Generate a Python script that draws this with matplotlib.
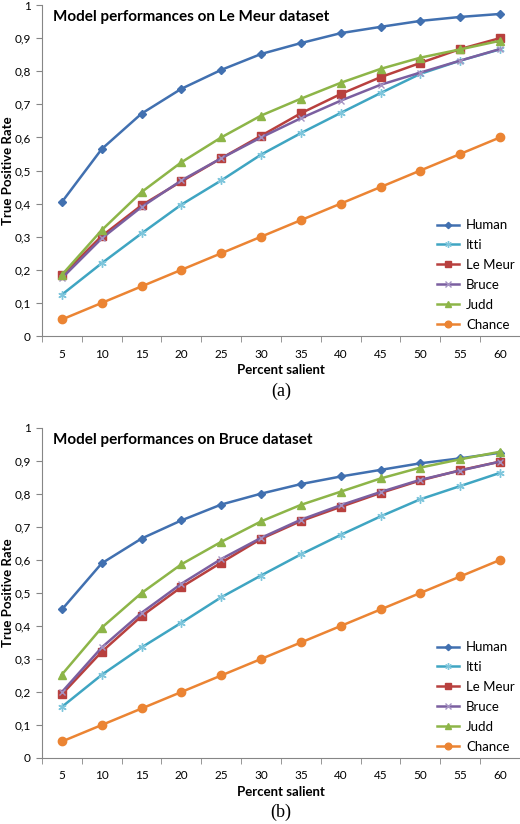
import matplotlib
matplotlib.use('Agg')
import matplotlib.pyplot as plt

plt.rcParams['font.family'] = ['Lato', 'DejaVu Sans']

# Percent salient categories
percent = ['5', '10', '15', '20', '25', '30', '35', '40', '45', '50', '55', '60']
models = ['Human', 'Itti', 'Le Meur', 'Bruce', 'Judd', 'Chance']

# (a) Le Meur dataset
lemeur_human = [0.405, 0.565, 0.672, 0.747, 0.804, 0.852, 0.885, 0.915, 0.934, 0.952, 0.964, 0.973]
lemeur_itti = [0.125, 0.22, 0.31, 0.397, 0.47, 0.548, 0.613, 0.674, 0.734, 0.792, 0.832, 0.866]
lemeur_lemeur = [0.183, 0.302, 0.395, 0.467, 0.537, 0.605, 0.673, 0.731, 0.782, 0.825, 0.867, 0.9]
lemeur_bruce = [0.175, 0.295, 0.39, 0.47, 0.537, 0.6, 0.658, 0.711, 0.759, 0.796, 0.832, 0.867]
lemeur_judd = [0.185, 0.32, 0.435, 0.525, 0.6, 0.666, 0.717, 0.765, 0.807, 0.841, 0.866, 0.892]
lemeur_chance = [0.05, 0.1, 0.15, 0.2, 0.25, 0.3, 0.35, 0.4, 0.45, 0.5, 0.55, 0.6]

# (b) Bruce dataset
bruce_human = [0.45, 0.59, 0.665, 0.72, 0.768, 0.801, 0.83, 0.853, 0.873, 0.893, 0.908, 0.925]
bruce_itti = [0.155, 0.252, 0.335, 0.41, 0.487, 0.553, 0.617, 0.676, 0.732, 0.784, 0.824, 0.864]
bruce_lemeur = [0.193, 0.322, 0.43, 0.518, 0.592, 0.664, 0.718, 0.761, 0.803, 0.841, 0.872, 0.898]
bruce_bruce = [0.2, 0.335, 0.44, 0.528, 0.603, 0.667, 0.722, 0.766, 0.806, 0.843, 0.871, 0.898]
bruce_judd = [0.253, 0.395, 0.5, 0.587, 0.655, 0.717, 0.767, 0.807, 0.847, 0.88, 0.905, 0.928]
bruce_chance = [0.05, 0.1, 0.15, 0.2, 0.25, 0.3, 0.35, 0.4, 0.45, 0.5, 0.55, 0.6]

colors = ['#4170B0', '#3FA5C2', '#B8403E', '#7B5FA0', '#8DB548', '#EB8433']
edge_colors = ['#4170B0', '#7FC6DC', '#B8403E', '#A593C2', '#8DB548', '#EB8433']
markers = ['D', (6, 2, 0), 's', 'x', '^', 'o']
msizes = [4, 6, 6, 5, 6, 6]

yticks = [0, 0.1, 0.2, 0.3, 0.4, 0.5, 0.6, 0.7, 0.8, 0.9, 1]
ylabels = ['0', '0,1', '0,2', '0,3', '0,4', '0,5', '0,6', '0,7', '0,8', '0,9', '1']


def draw(ax, series, title):
    x = list(range(len(percent)))
    for s, name, c, ec, m, ms in zip(series, models, colors, edge_colors, markers, msizes):
        ax.plot(x, s, color=c, marker=m, markersize=ms, linewidth=1.8,
                markeredgewidth=1.0, markeredgecolor=ec, label=name)
    ax.set_xlim(-0.5, len(percent) - 0.5)
    ax.set_ylim(0, 1)
    ax.set_xticks(x)
    ax.set_xticklabels(percent, fontsize=8.5)
    ax.tick_params(axis='x', length=0, pad=9)
    ax.set_xticks([i - 0.5 for i in range(len(percent) + 1)], minor=True)
    ax.tick_params(axis='x', which='minor', length=4, color='#868686')
    ax.set_yticks(yticks)
    ax.set_yticklabels(ylabels, fontsize=8.5)
    ax.tick_params(axis='y', length=4, color='#868686', pad=4)
    for sp in ['top', 'right']:
        ax.spines[sp].set_visible(False)
    for sp in ['left', 'bottom']:
        ax.spines[sp].set_color('#868686')
    ax.set_xlabel('Percent salient', fontsize=9.5, fontweight='bold', va='center')
    ax.xaxis.set_label_coords(0.5, -0.103)
    ax.set_ylabel('True Positive Rate', fontsize=9.5, fontweight='bold', va='center')
    ax.yaxis.set_label_coords(-0.071, 0.5)
    ax.text(0.022, 0.985, title, transform=ax.transAxes, fontsize=11,
            fontweight='bold', va='top', ha='left')
    ax.legend(loc='lower right', bbox_to_anchor=(1.0, 0.0), frameon=False,
              fontsize=9.5, handlelength=1.7, labelspacing=0.6, borderaxespad=0,
              handletextpad=0.5, markerscale=0.8)


fig = plt.figure(figsize=(5.2, 8.24), dpi=100)
ax1 = fig.add_axes([0.0808, 0.5922, 0.919, 0.4017])
ax2 = fig.add_axes([0.0808, 0.0801, 0.919, 0.4005])

draw(ax1, [lemeur_human, lemeur_itti, lemeur_lemeur, lemeur_bruce, lemeur_judd, lemeur_chance],
     'Model performances on Le Meur dataset')
draw(ax2, [bruce_human, bruce_itti, bruce_lemeur, bruce_bruce, bruce_judd, bruce_chance],
     'Model performances on Bruce dataset')

fig.text(281 / 520, 1 - 391 / 824, '(a)', family='Liberation Serif', fontsize=13,
         ha='center', va='center')
fig.text(281 / 520, 1 - 812 / 824, '(b)', family='Liberation Serif', fontsize=13,
         ha='center', va='center')

plt.savefig('out.png', dpi=100)
